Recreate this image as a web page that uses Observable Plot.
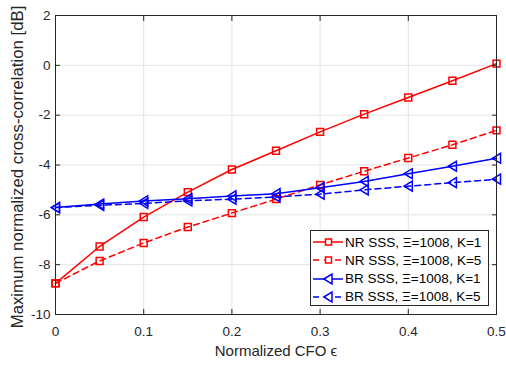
<!DOCTYPE html>
<html>
<head>
<meta charset="utf-8">
<script src="https://cdn.jsdelivr.net/npm/d3@7"></script>
<script src="https://cdn.jsdelivr.net/npm/@observablehq/plot@0.6"></script>
<style>
  html, body { margin: 0; padding: 0; background: #fff; }
  #wrap { position: relative; width: 506px; height: 367px; font-family: "Liberation Sans", Arial, Helvetica, sans-serif; }
  #legend { position: absolute; left: 310px; top: 230px; width: 177px; height: 74px; border: 1px solid #262626; background: #fff; box-sizing: content-box; }
  .row { position: absolute; left: 0; height: 18px; display: flex; align-items: center; }
  .row svg { display: block; margin-left: 2px; }
  .row span { font-size: 13.5px; color: #000; margin-left: 2px; white-space: nowrap; }
</style>
</head>
<body>
<div id="wrap"></div>
<script>
// ---- data ----
const cfo = [0, 0.05, 0.1, 0.15, 0.2, 0.25, 0.3, 0.35, 0.4, 0.45, 0.5];
const nrK1 = [-8.75, -7.27, -6.09, -5.09, -4.18, -3.43, -2.67, -1.96, -1.29, -0.62, 0.07];
const nrK5 = [-8.75, -7.85, -7.13, -6.49, -5.93, -5.37, -4.8, -4.25, -3.72, -3.19, -2.61];
const brK1 = [-5.71, -5.57, -5.44, -5.35, -5.24, -5.15, -4.91, -4.66, -4.35, -4.05, -3.73];
const brK5 = [-5.71, -5.62, -5.54, -5.44, -5.37, -5.28, -5.17, -5.0, -4.85, -4.71, -4.57];
const seriesNames = ["NR SSS, \u039E=1008, K=1", "NR SSS, \u039E=1008, K=5", "BR SSS, \u039E=1008, K=1", "BR SSS, \u039E=1008, K=5"];
const seriesValues = [nrK1, nrK5, brK1, brK5];
const seriesColors = ["#ff0000", "#ff0000", "#0000ff", "#0000ff"];
const seriesDash = [null, "6,4", null, "6,4"];
const seriesMarker = ["square", "square", "triangle-left", "triangle-left"];
const xTicks = [0, 0.1, 0.2, 0.3, 0.4, 0.5];
const yTicks = [-10, -8, -6, -4, -2, 0, 2];
const xLabel = "Normalized CFO \u03F5";
const yLabel = "Maximum normalized cross-correlation [dB]";

// custom left-pointing triangle symbol
const triLeft = {
  draw(context, size) {
    const r = Math.sqrt(size / Math.PI);
    context.moveTo(-r * 1.05, 0);
    context.lineTo(r, -r * 1.25);
    context.lineTo(r, r * 1.25);
    context.closePath();
  }
};
function sym(m) { return m === "square" ? "square" : triLeft; }

const rows = [];
seriesNames.forEach((name, i) => {
  cfo.forEach((x, j) => rows.push({series: name, idx: i, x, y: seriesValues[i][j]}));
});

const ink = "#262626";
const marks = [
  Plot.gridX(xTicks, {stroke: "#e3e3e3", strokeOpacity: 1}),
  Plot.gridY(yTicks, {stroke: "#e3e3e3", strokeOpacity: 1}),
];
seriesNames.forEach((name, i) => {
  const d = rows.filter(r => r.idx === i);
  marks.push(Plot.line(d, {x: "x", y: "y", stroke: seriesColors[i], strokeWidth: 1.5, strokeDasharray: seriesDash[i]}));
  marks.push(Plot.dot(d, {x: "x", y: "y", stroke: seriesColors[i], strokeWidth: 1.5, fill: "none",
    symbol: sym(seriesMarker[i]), r: seriesMarker[i] === "square" ? 3.9 : 4}));
});
marks.push(
  Plot.frame({stroke: ink, strokeWidth: 1}),
  Plot.axisX(xTicks, {anchor: "bottom", tickSize: 0, tickPadding: 12, fontSize: 13.5, color: ink, label: null, tickFormat: d => String(d)}),
  Plot.axisX(xTicks, {anchor: "bottom", tickSize: -5, tickFormat: () => "", label: null, stroke: ink}),
  Plot.axisX(xTicks, {anchor: "top", tickSize: -5, tickFormat: () => "", label: null, stroke: ink}),
  Plot.axisY(yTicks, {anchor: "left", tickSize: 0, tickPadding: 5, fontSize: 13.5, color: ink, label: null, tickFormat: d => String(d)}),
  Plot.axisY(yTicks, {anchor: "left", tickSize: -5, tickFormat: () => "", label: null, stroke: ink}),
  Plot.axisY(yTicks, {anchor: "right", tickSize: -5, tickFormat: () => "", label: null, stroke: ink}),
  Plot.text([xLabel], {frameAnchor: "bottom", dy: 41, fontSize: 15, fill: ink, textAnchor: "middle", text: d => d}),
  Plot.text([yLabel], {frameAnchor: "left", dx: -38, dy: 2, rotate: -90, fontSize: 16.8, fill: ink, textAnchor: "middle", text: d => d})
);

const chart = Plot.plot({
  width: 506,
  height: 367,
  marginLeft: 55,
  marginRight: 10,
  marginTop: 15,
  marginBottom: 53,
  style: {fontFamily: '"Liberation Sans", Arial, Helvetica, sans-serif', background: "#fff", overflow: "visible"},
  x: {domain: [0, 0.5]},
  y: {domain: [-10, 2]},
  marks
});
const wrap = document.getElementById("wrap");
wrap.appendChild(chart);

// legend overlay
const legend = document.createElement("div");
legend.id = "legend";
seriesNames.forEach((name, i) => {
  const row = document.createElement("div");
  row.className = "row";
  row.style.top = (2 + i * 18.3) + "px";
  const s = d3.create("svg").attr("width", 30).attr("height", 18);
  s.append("line").attr("x1", 0).attr("x2", 30).attr("y1", 9).attr("y2", 9)
    .attr("stroke", seriesColors[i]).attr("stroke-width", 1.5)
    .attr("stroke-dasharray", seriesDash[i] ? "6,5" : null);
  if (seriesMarker[i] === "square") {
    s.append("rect").attr("x", 12.5).attr("y", 6).attr("width", 6).attr("height", 6)
      .attr("fill", "#fff").attr("stroke", seriesColors[i]).attr("stroke-width", 1.5);
  } else {
    s.append("path").attr("d", d3.symbol(triLeft, Math.PI * 16)()).attr("transform", "translate(15,9)")
      .attr("fill", "#fff").attr("stroke", seriesColors[i]).attr("stroke-width", 1.5);
  }
  row.appendChild(s.node());
  const t = document.createElement("span");
  t.textContent = name;
  row.appendChild(t);
  legend.appendChild(row);
});
wrap.appendChild(legend);
</script>
</body>
</html>
